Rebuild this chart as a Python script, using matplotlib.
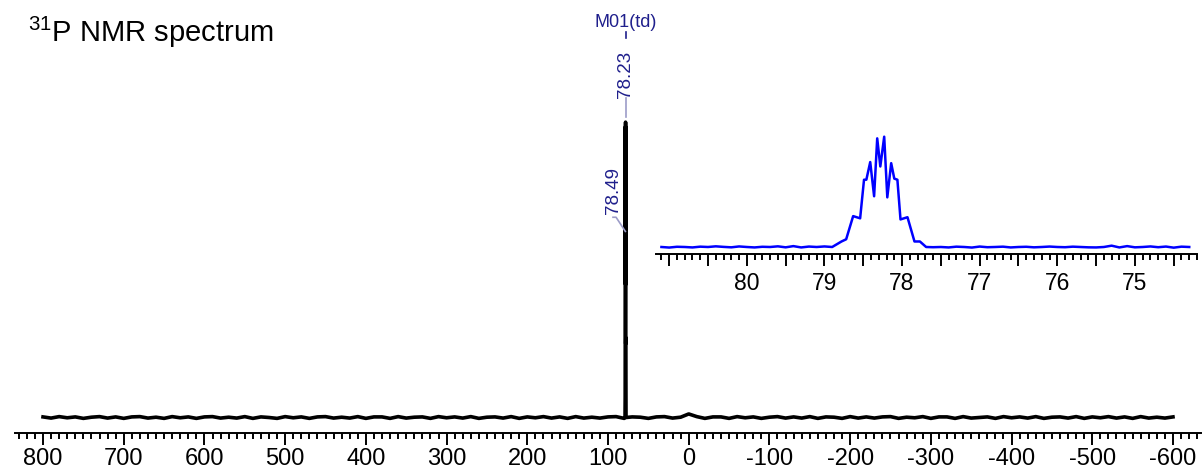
import matplotlib
matplotlib.use("Agg")
import matplotlib.pyplot as plt
from matplotlib.ticker import MultipleLocator, FuncFormatter

plt.rcParams['font.family'] = ['Liberation Sans', 'DejaVu Sans']
plt.rcParams['mathtext.fontset'] = 'custom'
plt.rcParams['mathtext.rm'] = 'Liberation Sans'
plt.rcParams['axes.unicode_minus'] = False

# multiplet at ~78.2 ppm (relative intensity)
peak_ppm = [78.90, 78.78, 78.72, 78.63, 78.54, 78.49, 78.46, 78.41, 78.36, 78.32,
            78.28, 78.23, 78.19, 78.14, 78.10, 78.06, 78.02, 77.93, 77.84, 77.77, 77.69]
peak_int = [0.0, 0.05, 0.07, 0.28, 0.26, 0.61, 0.61, 0.77, 0.46, 0.985,
            0.73, 1.0, 0.45, 0.76, 0.62, 0.61, 0.25, 0.27, 0.05, 0.05, 0.0]

# full-range baseline, one value every 10 ppm from 800 to -600
base_ppm = list(range(800, -601, -10))
base_int = [
    0.002, -0.002, 0.003, -0.001, 0.002, -0.003, 0.001, 0.003, -0.002, 0.002,
    -0.003, 0.002, 0.003, -0.002, 0.001, -0.003, 0.003, -0.001, 0.002, -0.003,
    0.002, 0.003, -0.002, 0.001, -0.002, 0.003, -0.003, 0.002, 0.000, -0.003,
    0.003, -0.001, 0.002, -0.003, 0.002, 0.003, -0.002, 0.001, -0.002, 0.003,
    -0.003, 0.002, 0.002, -0.003, 0.003, -0.002, 0.001, 0.002, -0.003, 0.003,
    -0.001, 0.002, -0.002, 0.003, -0.003, 0.001, 0.002, -0.002, 0.003, -0.003,
    0.002, -0.001, 0.003, -0.002, 0.002, -0.003, 0.003, -0.002, 0.001, -0.002,
    0.002, 0.003, -0.003, 0.002, 0.001, -0.003, 0.002, 0.003, -0.002, 0.001,
    0.012, 0.003, -0.003, 0.002, 0.002, -0.003, 0.003, -0.001, 0.002, -0.003,
    0.001, 0.003, -0.002, 0.002, -0.002, 0.003, -0.003, 0.002, 0.001, -0.003,
    0.003, -0.002, 0.002, -0.002, 0.002, 0.003, -0.003, 0.001, -0.001, 0.003,
    -0.003, 0.002, 0.002, -0.003, 0.003, -0.002, 0.000, 0.002, -0.003, 0.003,
    -0.001, 0.002, -0.002, 0.003, -0.003, 0.001, 0.002, -0.002, 0.003, -0.003,
    0.002, -0.001, 0.003, -0.002, 0.002, -0.003, 0.003, -0.002, 0.001, -0.002,
    0.002,
]

# baseline of the expanded region, every 0.1 ppm
inset_base_ppm = [81.1, 81.0, 80.9, 80.8, 80.7, 80.6, 80.5, 80.4, 80.3, 80.2, 80.1, 80.0,
                  79.9, 79.8, 79.7, 79.6, 79.5, 79.4, 79.3, 79.2, 79.1, 79.0,
                  77.6, 77.5, 77.4, 77.3, 77.2, 77.1, 77.0, 76.9, 76.8, 76.7, 76.6,
                  76.5, 76.4, 76.3, 76.2, 76.1, 76.0, 75.9, 75.8, 75.7, 75.6, 75.5,
                  75.4, 75.3, 75.2, 75.1, 75.0, 74.9, 74.8, 74.7, 74.6, 74.5, 74.4, 74.3]
inset_base_int = [0.0, -0.005, 0.002, 0.0, -0.004, 0.003, 0.0, 0.006, 0.001, -0.003, 0.005, 0.0,
                  -0.004, 0.002, 0.0, 0.006, -0.003, 0.008, -0.004, 0.004, 0.0, 0.005,
                  -0.002, 0.0, -0.004, 0.003, 0.0, -0.005, 0.004, -0.002, 0.0, 0.003, -0.004,
                  0.0, 0.002, -0.003, 0.0, 0.004, 0.0, -0.002, 0.003, 0.0, -0.003, -0.004,
                  0.0, 0.012, -0.004, 0.008, -0.003, 0.0, 0.005, -0.002, 0.004, -0.006, 0.003, 0.0]

label_color = '#1f1f8c'
link_color = '#9c9cc8'

fig = plt.figure(figsize=(12.03, 4.72), dpi=100)

# main spectrum
ax = fig.add_axes([15 / 1203, 39.5 / 472, 1186 / 1203, 432.5 / 472])
pts = sorted(zip(base_ppm + peak_ppm, base_int + peak_int), key=lambda p: -p[0])
ax.plot([p[0] for p in pts], [p[1] for p in pts], color='black', lw=2.6)
ax.set_xlim(834.7, -634.7)
ax.set_ylim(-0.0508, 1.4136)

for s in ['left', 'right', 'top']:
    ax.spines[s].set_visible(False)
ax.spines['bottom'].set_linewidth(1.4)
ax.set_yticks([])
ax.xaxis.set_major_locator(MultipleLocator(100))
ax.xaxis.set_minor_locator(MultipleLocator(10))
ax.tick_params(axis='x', which='major', length=8.6, width=1.4, labelsize=17, pad=2.5)
ax.tick_params(axis='x', which='minor', length=4.3, width=1.4)
ax.patch.set_alpha(0)

# peak labels
top_int = max(peak_int)
top_ppm = peak_ppm[peak_int.index(top_int)]
ax.text(top_ppm, 1.336, 'M01(td)', ha='center', va='center', fontsize=13, color=label_color)
ax.plot([top_ppm, top_ppm], [1.285, 1.305], color=label_color, lw=1.2)
ax.text(top_ppm, 1.083, f'{top_ppm:.2f}', rotation=90, ha='center', va='bottom',
        fontsize=13.5, color=label_color)
ax.plot([top_ppm, top_ppm], [1.081, top_int + 0.017], color=link_color, lw=1.2)

i49 = peak_ppm.index(78.49)
ax.text(93.8, 0.688, f'{peak_ppm[i49]:.2f}', rotation=90, ha='center', va='bottom',
        fontsize=13.5, color=label_color)
ax.plot([93.8, 90.0, peak_ppm[i49]], [0.678, 0.678, peak_int[i49] + 0.02],
        color=link_color, lw=1.2)

# expanded region
ins = fig.add_axes([656 / 1203, 218 / 472, 541 / 1203, 128 / 472])
ipts = sorted(zip(inset_base_ppm + peak_ppm, inset_base_int + peak_int), key=lambda p: -p[0])
ins.plot([p[0] for p in ipts], [p[1] for p in ipts], color='#0000ff', lw=1.8)
ins.set_xlim(81.17, 74.2)
ins.set_ylim(-0.0635, 1.097)
for s in ['left', 'right', 'top']:
    ins.spines[s].set_visible(False)
ins.spines['bottom'].set_linewidth(1.4)
ins.set_yticks([])
ins.xaxis.set_major_locator(MultipleLocator(0.5))
ins.xaxis.set_minor_locator(MultipleLocator(0.1))
ins.xaxis.set_major_formatter(
    FuncFormatter(lambda v, _: f'{v:.0f}' if abs(v - round(v)) < 1e-6 and v < 80.5 else ''))
ins.tick_params(axis='x', which='major', length=8.6, width=1.4, labelsize=16.5, pad=4.5)
ins.tick_params(axis='x', which='minor', length=4.3, width=1.4)
ins.patch.set_alpha(0)

fig.text(28 / 1203, 1 - 42 / 472, r'$\mathregular{^{31}}$P NMR spectrum', fontsize=21,
         va='baseline', ha='left')

fig.savefig('out.png', dpi=100)
